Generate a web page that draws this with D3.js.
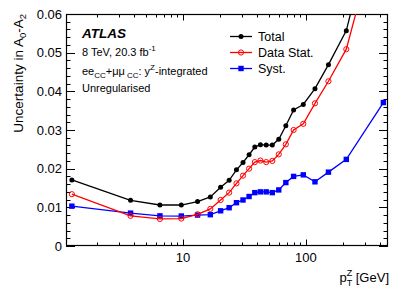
<!DOCTYPE html>
<html><head><meta charset="utf-8">
<script src="https://cdn.jsdelivr.net/npm/d3@7"></script>
<style>body{margin:0;background:#fff}svg{display:block;font-family:"Liberation Sans",Arial,sans-serif}</style>
</head><body>
<svg id="c" width="409" height="294"></svg>
<script>
const pt = [1.25, 3.75, 6.5, 9.7, 13.15, 16.7, 20.25, 23.75, 27.25, 30.8, 34.5, 38.4, 42.65, 47.55, 53.3, 60.15, 68.65, 79.4, 95.2, 118.5, 152.5, 213, 426.5];
const total = [0.0171, 0.0118, 0.0106, 0.0106, 0.0115, 0.0127, 0.0152, 0.0170, 0.0197, 0.0216, 0.0236, 0.0256, 0.0262, 0.0261, 0.0261, 0.0276, 0.0311, 0.0352, 0.0366, 0.0407, 0.0469, 0.0557, 0.094];
const stat = [0.0134, 0.0078, 0.0070, 0.0071, 0.0082, 0.0096, 0.0119, 0.0138, 0.0162, 0.0182, 0.0200, 0.0217, 0.0221, 0.0217, 0.0220, 0.0237, 0.0263, 0.0300, 0.0316, 0.0369, 0.0426, 0.0509, 0.0868];
const syst = [0.0103, 0.0085, 0.0078, 0.00775, 0.0080, 0.0081, 0.0091, 0.0099, 0.0112, 0.0119, 0.0128, 0.0138, 0.0140, 0.0140, 0.0138, 0.0145, 0.0164, 0.0180, 0.0184, 0.0166, 0.0191, 0.0224, 0.0371];
const yTicks = [0, 0.01, 0.02, 0.03, 0.04, 0.05, 0.06];
const yTickLabels = ["0", "0.01", "0.02", "0.03", "0.04", "0.05", "0.06"];
const xTickLabels = {10: "10", 100: "100"};
const seriesNames = ["Total", "Data Stat.", "Syst."];

const L = 66, R = 388, T = 14, B = 246;
const svg = d3.select("#c");
const x = d3.scaleLog().domain([1.12, 465]).range([L, R]);
const y = d3.scaleLinear().domain([0, 0.06]).range([B, T]);

svg.append("defs").append("clipPath").attr("id","clip")
  .append("rect").attr("x",L).attr("y",T).attr("width",R-L).attr("height",B-T);

// ticks
const minorY = d3.range(0, 0.0601, 0.002);
const g = svg.append("g").attr("stroke","#000").attr("stroke-width",1);
minorY.forEach(v=>{
  const major = Math.abs(v*100 - Math.round(v*100)) < 1e-6;
  const len = major ? 9 : 4.5;
  const yy = Math.round(y(v))+0.5;
  g.append("line").attr("x1",L).attr("x2",L+len).attr("y1",yy).attr("y2",yy);
  g.append("line").attr("x1",R).attr("x2",R-len).attr("y1",yy).attr("y2",yy);
});
const xt = [];
[1,10,100].forEach(d=>{for(let k=1;k<10;k++){const v=d*k; if(v>=1.12&&v<=465) xt.push(v);}});
xt.forEach(v=>{
  const major = (v===10||v===100);
  const len = major ? 6.5 : 3.5;
  const xx = Math.round(x(v))+0.5;
  g.append("line").attr("x1",xx).attr("x2",xx).attr("y1",B).attr("y2",B-len);
  g.append("line").attr("x1",xx).attr("x2",xx).attr("y1",T).attr("y2",T+len);
});
svg.append("rect").attr("x",L+0.5).attr("y",T+0.5).attr("width",R-L-1).attr("height",B-T-1)
  .attr("fill","none").attr("stroke","#000").attr("stroke-width",1.2);

// tick labels
yTicks.forEach((v,i)=>{
  svg.append("text").attr("x",62).attr("y",y(v)+4.6).attr("text-anchor","end")
    .attr("font-size",13).text(yTickLabels[i]);
});
Object.keys(xTickLabels).forEach(k=>{
  svg.append("text").attr("x",x(+k)).attr("y",261.5).attr("text-anchor","middle")
    .attr("font-size",13).text(xTickLabels[k]);
});

// axis titles
const yt = svg.append("text").attr("transform","translate(23,14) rotate(-90)")
  .attr("text-anchor","end").attr("font-size",13.5);
yt.append("tspan").text("Uncertainty in A");
yt.append("tspan").attr("font-size",9.5).attr("dy",3).text("0");
yt.append("tspan").attr("dy",-3).text("-A");
yt.append("tspan").attr("font-size",9.5).attr("dy",3).text("2");

const xtl = svg.append("text").attr("x",389).attr("y",282).attr("text-anchor","end").attr("font-size",13);
xtl.append("tspan").text("p");
xtl.append("tspan").attr("font-size",9).attr("dy",4).text("T");
xtl.append("tspan").attr("font-size",9).attr("dx",-5.5).attr("dy",-10).text("Z");
xtl.append("tspan").attr("dy",6).text(" [GeV]");

// series
const line = d3.line().x((d,i)=>x(pt[i])).y(d=>y(d));
const series = [
  {vals: total, color:"#000000", marker:"dot"},
  {vals: stat, color:"#ff0000", marker:"open"},
  {vals: syst, color:"#0000ff", marker:"square"}
];
const plot = svg.append("g").attr("clip-path","url(#clip)");
function drawMarker(sel, m, color, cx, cy){
  if(m==="dot") sel.append("circle").attr("cx",cx).attr("cy",cy).attr("r",2.5).attr("fill",color);
  else if(m==="open") sel.append("circle").attr("cx",cx).attr("cy",cy).attr("r",2.6).attr("fill","none").attr("stroke",color).attr("stroke-width",1);
  else sel.append("rect").attr("x",cx-2.7).attr("y",cy-2.7).attr("width",5.4).attr("height",5.4).attr("fill",color);
}
[2,1,0].forEach(si=>{
  const s = series[si];
  plot.append("path").attr("d",line(s.vals)).attr("fill","none").attr("stroke",s.color).attr("stroke-width",1.3);
  s.vals.forEach((v,i)=>drawMarker(plot, s.marker, s.color, x(pt[i]), y(v)));
});

// legend
seriesNames.forEach((n,i)=>{
  const cy = 36.5 + i*16;
  const s = series[i];
  svg.append("line").attr("x1",230).attr("x2",252).attr("y1",cy).attr("y2",cy).attr("stroke",s.color).attr("stroke-width",1.3);
  drawMarker(svg, s.marker, s.color, 241, cy);
  svg.append("text").attr("x",258).attr("y",cy+4.5).attr("font-size",12.5).text(n);
});

// labels
svg.append("text").attr("x",82).attr("y",37.5).attr("font-size",13.5).attr("font-weight","bold").attr("font-style","italic").text("ATLAS");
const t1 = svg.append("text").attr("x",82).attr("y",56).attr("font-size",11);
t1.append("tspan").text("8 TeV, 20.3 fb");
t1.append("tspan").attr("font-size",8).attr("dy",-5).text("-1");
const t2 = svg.append("text").attr("x",82).attr("y",74.5).attr("font-size",11);
t2.append("tspan").text("ee");
t2.append("tspan").attr("font-size",8).attr("dy",3.5).text("CC");
t2.append("tspan").attr("dy",-3.5).text("+μμ");
t2.append("tspan").attr("font-size",8).attr("dy",3.5).attr("dx",2).text("CC");
t2.append("tspan").attr("dy",-3.5).text(": y");
t2.append("tspan").attr("font-size",8).attr("dy",-5).text("Z");
t2.append("tspan").attr("dy",5).text("-integrated");
svg.append("text").attr("x",82).attr("y",92).attr("font-size",11).text("Unregularised");
</script>
</body></html>
